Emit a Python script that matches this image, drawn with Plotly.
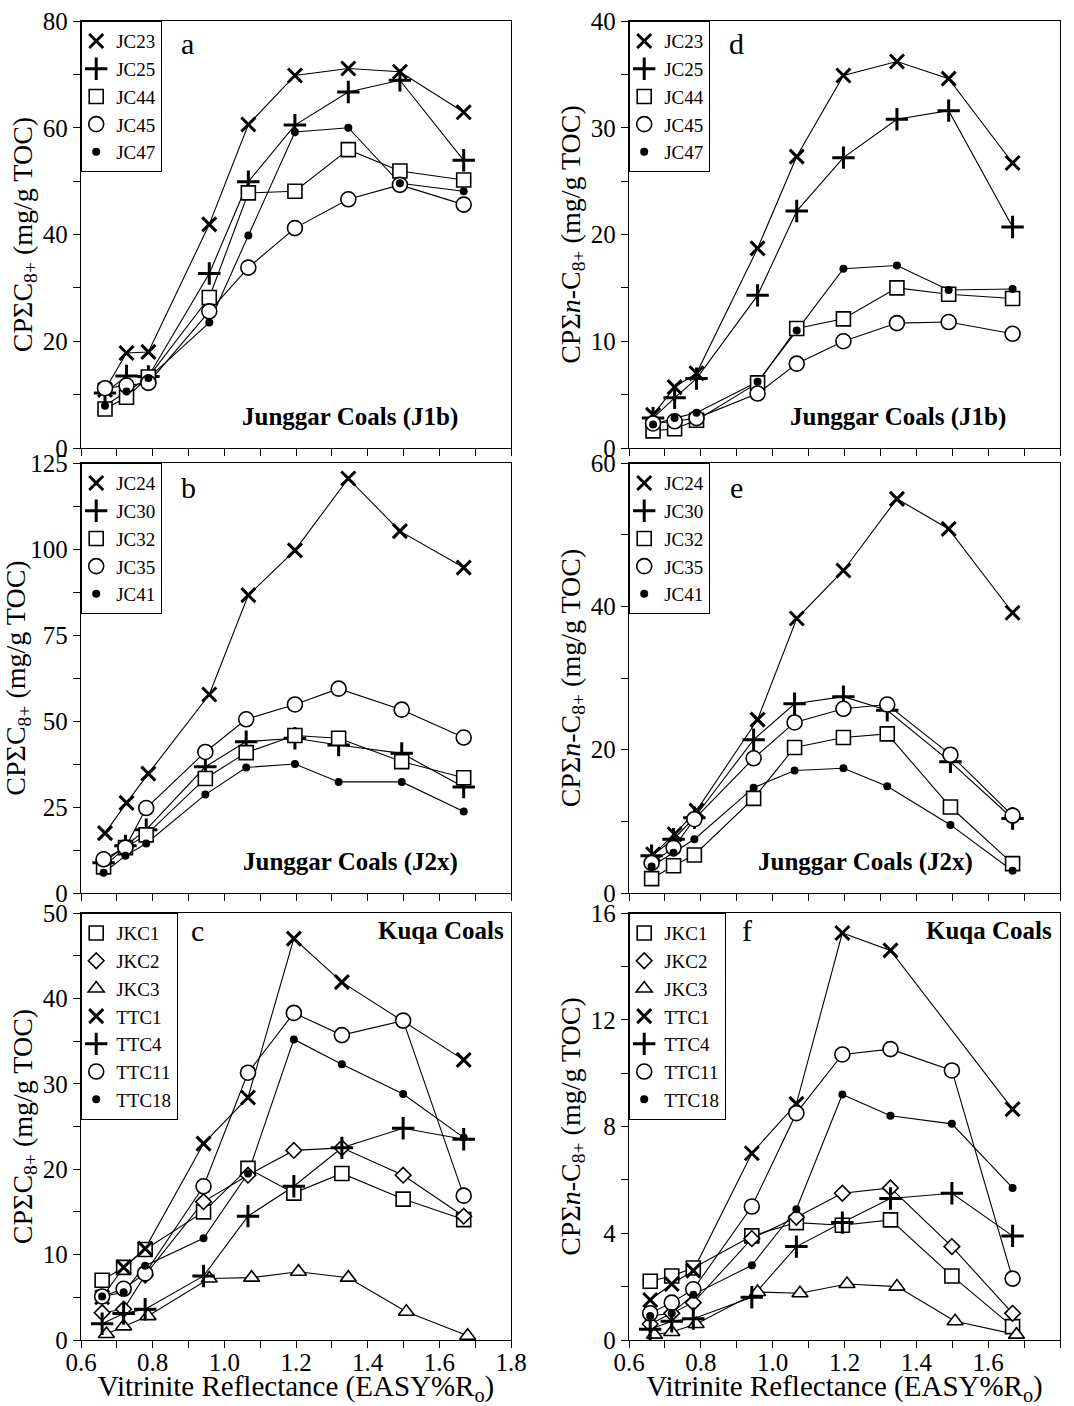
import plotly.graph_objects as go

# ---------------- data (x = EASY%Ro, y = yields) ----------------
RO_J1B = [0.667, 0.727, 0.788, 0.958, 1.067, 1.197, 1.346, 1.490, 1.668]
RO_JC24 = [0.667, 0.727, 0.788, 0.958, 1.067, 1.197, 1.346, 1.490, 1.668]
RO_J2X = [0.663, 0.724, 0.782, 0.947, 1.061, 1.197, 1.319, 1.495, 1.668]
RO_KUQA = [0.659, 0.719, 0.779, 0.942, 1.066, 1.194, 1.328, 1.499, 1.668]
RO_JKC3 = [0.671, 0.719, 0.787, 0.958, 1.076, 1.207, 1.346, 1.508, 1.679]

# panel a: CPΣC8+, Junggar J1b
A_JC23 = [10.9, 17.8, 18.0, 41.9, 60.6, 69.8, 71.1, 70.5, 62.9]
A_JC25 = [10.3, 13.5, 13.4, 32.7, 49.9, 60.5, 66.7, 68.9, 53.9]
A_JC44 = [7.3, 9.5, 13.3, 28.2, 47.8, 48.1, 55.9, 51.9, 50.2]
A_JC45 = [11.2, 11.7, 12.2, 25.6, 33.8, 41.2, 46.6, 49.3, 45.6]
A_JC47 = [7.9, 10.6, 13.1, 23.5, 39.8, 59.2, 60.0, 49.6, 48.1]

# panel d: CPΣn-C8+, Junggar J1b
D_JC23 = [3.1, 5.7, 7.0, 18.7, 27.3, 34.9, 36.2, 34.6, 26.7]
D_JC25 = [2.8, 4.7, 6.5, 14.3, 22.2, 27.2, 30.8, 31.6, 20.7]
D_JC44 = [1.6, 1.8, 2.6, 6.1, 11.2, 12.1, 15.0, 14.4, 14.0]
D_JC45 = [2.3, 2.5, 2.8, 5.1, 7.9, 10.0, 11.7, 11.8, 10.7]
D_JC47 = [2.2, 2.8, 3.3, 6.2, 11.0, 16.8, 17.1, 14.8, 14.9]

# panel b: CPΣC8+, Junggar J2x
B_JC24 = [17.4, 26.2, 34.7, 57.7, 86.6, 99.6, 120.5, 105.2, 94.6]
B_JC30 = [8.8, 13.7, 18.4, 36.7, 44.0, 45.0, 43.0, 40.6, 30.8]
B_JC32 = [7.6, 13.2, 16.9, 33.3, 40.8, 45.8, 45.0, 38.2, 33.5]
B_JC35 = [9.8, 13.2, 24.7, 41.0, 50.5, 54.8, 59.4, 53.3, 45.2]
B_JC41 = [5.9, 10.8, 14.4, 28.6, 36.5, 37.5, 32.3, 32.3, 23.7]

# panel e: CPΣn-C8+, Junggar J2x
E_JC24 = [5.4, 8.2, 11.5, 24.2, 38.3, 45.0, 55.0, 50.8, 39.1]
E_JC30 = [5.2, 7.5, 10.5, 21.4, 26.4, 27.4, 25.5, 18.3, 10.4]
E_JC32 = [2.0, 3.8, 5.3, 13.2, 20.3, 21.7, 22.2, 12.0, 4.1]
E_JC35 = [4.2, 6.3, 10.3, 18.8, 23.8, 25.7, 26.3, 19.3, 10.8]
E_JC41 = [3.7, 5.6, 7.5, 14.7, 17.1, 17.4, 14.9, 9.5, 3.1]

# panel c: CPΣC8+, Kuqa
C_JKC1 = [7.0, 8.5, 10.6, 15.0, 20.1, 17.2, 19.5, 16.5, 14.1]
C_JKC2 = [3.2, 3.6, 7.6, 16.2, 19.3, 22.2, 22.5, 19.3, 14.5]
C_JKC3 = [0.7, 1.6, 2.8, 7.2, 7.3, 8.0, 7.3, 3.3, 0.5]
C_TTC1 = [5.0, 8.5, 10.7, 23.0, 28.4, 47.0, 41.9, None, 32.8]
C_TTC4 = [1.9, 3.1, 3.6, 7.5, 14.5, 18.0, 22.5, 24.8, 23.5]
C_TTC11 = [5.1, 6.0, 7.8, 18.0, 31.3, 38.3, 35.7, 37.4, 16.9]
C_TTC18 = [5.1, 5.6, 8.7, 11.9, 19.5, 35.2, 32.3, 28.8, 23.7]

# panel f: CPΣn-C8+, Kuqa
F_JKC1 = [2.2, 2.4, 2.7, 3.9, 4.4, 4.3, 4.5, 2.4, 0.5]
F_JKC2 = [0.6, 1.0, 1.4, 3.8, 4.6, 5.5, 5.7, 3.5, 1.0]
F_JKC3 = [0.2, 0.3, 0.6, 1.8, 1.75, 2.1, 2.0, 0.7, 0.2]
F_TTC1 = [1.5, 2.1, 2.6, 7.0, 8.85, 15.25, 14.6, None, 8.65]
F_TTC4 = [0.4, 0.7, 0.8, 1.6, 3.5, 4.4, 5.3, 5.5, 3.9]
F_TTC11 = [1.0, 1.4, 1.9, 5.0, 8.5, 10.7, 10.9, 10.1, 2.3]
F_TTC18 = [0.9, 1.0, 1.7, 2.8, 4.9, 9.2, 8.4, 8.1, 5.7]

X_TICKS = [0.6, 0.8, 1.0, 1.2, 1.4, 1.6, 1.8]

# ---------------- styling ----------------
W, H = 1074, 1406
MB = 66                      # bottom margin for the x titles
PH = H - MB                  # plotting-area height
FONT = "Liberation Serif"
COL_X = [(81, 511), (629, 1060)]
ROW_Y = [(21, 448), (463, 893), (913, 1340)]


def xdom(c):
    return [COL_X[c][0] / W, COL_X[c][1] / W]


def ydom(r):
    return [(PH - ROW_Y[r][1]) / PH, (PH - ROW_Y[r][0]) / PH]


LW = 1.6
MARK = {
    "x": dict(symbol="x-thin", size=14, color="black", line=dict(width=3, color="black")),
    "+": dict(symbol="cross-thin", size=16, color="black", line=dict(width=3, color="black")),
    "sq": dict(symbol="square", size=14, color="white", line=dict(width=LW, color="black")),
    "o": dict(symbol="circle", size=15, color="white", line=dict(width=LW, color="black")),
    "dot": dict(symbol="circle", size=8, color="black", line=dict(width=0, color="black")),
    "dia": dict(symbol="diamond", size=12, color="white", line=dict(width=LW, color="black")),
    "tri": dict(symbol="triangle-up", size=14, color="white", line=dict(width=LW, color="black")),
}

LEFT_T = "CPΣC<sub>8+</sub> (mg/g TOC)"
RIGHT_T = "CPΣ<i>n</i>-C<sub>8+</sub> (mg/g TOC)"
X_T = "Vitrinite Reflectance (EASY%R<sub>o</sub>)"

PANELS = [
    dict(letter="a", row=0, col=0, ymax=80, dtick=20, region="Junggar Coals (J1b)", rpos=(0.626, 0.073, "center"),
         series=[("JC23", RO_J1B, A_JC23, "x"), ("JC25", RO_J1B, A_JC25, "+"), ("JC44", RO_J1B, A_JC44, "sq"),
                 ("JC45", RO_J1B, A_JC45, "o"), ("JC47", RO_J1B, A_JC47, "dot")]),
    dict(letter="d", row=0, col=1, ymax=40, dtick=10, region="Junggar Coals (J1b)", rpos=(0.624, 0.073, "center"),
         series=[("JC23", RO_J1B, D_JC23, "x"), ("JC25", RO_J1B, D_JC25, "+"), ("JC44", RO_J1B, D_JC44, "sq"),
                 ("JC45", RO_J1B, D_JC45, "o"), ("JC47", RO_J1B, D_JC47, "dot")]),
    dict(letter="b", row=1, col=0, ymax=125, dtick=25, region="Junggar Coals (J2x)", rpos=(0.626, 0.072, "center"),
         series=[("JC24", RO_JC24, B_JC24, "x"), ("JC30", RO_J2X, B_JC30, "+"), ("JC32", RO_J2X, B_JC32, "sq"),
                 ("JC35", RO_J2X, B_JC35, "o"), ("JC41", RO_J2X, B_JC41, "dot")]),
    dict(letter="e", row=1, col=1, ymax=60, dtick=20, region="Junggar Coals (J2x)", rpos=(0.548, 0.072, "center"),
         series=[("JC24", RO_JC24, E_JC24, "x"), ("JC30", RO_J2X, E_JC30, "+"), ("JC32", RO_J2X, E_JC32, "sq"),
                 ("JC35", RO_J2X, E_JC35, "o"), ("JC41", RO_J2X, E_JC41, "dot")]),
    dict(letter="c", row=2, col=0, ymax=50, dtick=10, region="Kuqa Coals", rpos=(0.988, 0.96, "right"),
         series=[("JKC1", RO_KUQA, C_JKC1, "sq"), ("JKC2", RO_KUQA, C_JKC2, "dia"), ("JKC3", RO_JKC3, C_JKC3, "tri"),
                 ("TTC1", RO_KUQA, C_TTC1, "x"), ("TTC4", RO_KUQA, C_TTC4, "+"), ("TTC11", RO_KUQA, C_TTC11, "o"),
                 ("TTC18", RO_KUQA, C_TTC18, "dot")]),
    dict(letter="f", row=2, col=1, ymax=16, dtick=4, region="Kuqa Coals", rpos=(0.986, 0.96, "right"),
         series=[("JKC1", RO_KUQA, F_JKC1, "sq"), ("JKC2", RO_KUQA, F_JKC2, "dia"), ("JKC3", RO_JKC3, F_JKC3, "tri"),
                 ("TTC1", RO_KUQA, F_TTC1, "x"), ("TTC4", RO_KUQA, F_TTC4, "+"), ("TTC11", RO_KUQA, F_TTC11, "o"),
                 ("TTC18", RO_KUQA, F_TTC18, "dot")]),
]

fig = go.Figure()
layout = dict(
    width=W, height=H, margin=dict(l=0, r=0, t=0, b=MB, autoexpand=False),
    paper_bgcolor="white", plot_bgcolor="white",
    font=dict(family=FONT, color="black", size=24),
    showlegend=True, annotations=[],
)

for i, p in enumerate(PANELS, start=1):
    sfx = "" if i == 1 else str(i)
    xa, ya = "x" + sfx, "y" + sfx
    lg = "legend" if i == 1 else f"legend{i}"
    # connecting lines first
    for name, xs, ys, mk in p["series"]:
        fig.add_trace(go.Scatter(x=xs, y=ys, mode="lines", connectgaps=True,
                                 line=dict(color="black", width=1.1), showlegend=False,
                                 hoverinfo="skip", xaxis=xa, yaxis=ya))
    for name, xs, ys, mk in p["series"]:
        fig.add_trace(go.Scatter(x=xs, y=ys, mode="markers", name=name, marker=MARK[mk],
                                 cliponaxis=False, xaxis=xa, yaxis=ya, legend=lg))
    bottom = p["row"] == 2
    layout["xaxis" + sfx] = dict(
        domain=xdom(p["col"]), anchor=ya, range=[0.6, 1.8], tickvals=X_TICKS, ticktext=[f"{v:.1f}" for v in X_TICKS],
        showticklabels=bottom, ticks="outside", ticklen=7, tickwidth=1.2, tickcolor="black",
        minor=dict(dtick=0.1, tick0=0.6, ticks="outside", ticklen=7, tickwidth=1.2, tickcolor="black"),
        showline=True, linecolor="black", linewidth=1.3, mirror=True, showgrid=False, zeroline=False,
        tickfont=dict(size=25), automargin=False, ticklabelstandoff=-7,
        title=dict(text=X_T if bottom else "", font=dict(size=29), standoff=4),
    )
    layout["yaxis" + sfx] = dict(
        domain=ydom(p["row"]), anchor=xa, range=[0, p["ymax"]], dtick=p["dtick"], tick0=0,
        ticks="outside", ticklen=7, tickwidth=1.2, tickcolor="black",
        minor=dict(dtick=p["dtick"] / 2, tick0=0, ticks="outside", ticklen=7, tickwidth=1.2, tickcolor="black"),
        showline=True, linecolor="black", linewidth=1.3, mirror=True, showgrid=False, zeroline=False,
        tickfont=dict(size=25), automargin=False,
        title=dict(text=LEFT_T if p["col"] == 0 else RIGHT_T, font=dict(size=28), standoff=2),
    )
    layout[lg] = dict(
        x=COL_X[p["col"]][0] / W, y=(PH - ROW_Y[p["row"]][0]) / PH, xanchor="left", yanchor="top",
        xref="paper", yref="paper", bgcolor="white", bordercolor="black", borderwidth=1.2,
        font=dict(size=19, family=FONT), tracegroupgap=0, itemwidth=30, indentation=-6,
    )
    lx = {"a": 0.247, "d": 0.25, "b": 0.249, "e": 0.25, "c": 0.272, "f": 0.274}[p["letter"]]
    ly = {0: 0.948, 1: 0.942, 2: 0.96}[p["row"]]
    layout["annotations"].append(dict(text=p["letter"], x=lx, y=ly, xref=f"{xa} domain", yref=f"{ya} domain",
                                      showarrow=False, font=dict(size=30), xanchor="center", yanchor="middle"))
    rx, ry, ranch = p["rpos"]
    layout["annotations"].append(dict(text=f"<b>{p['region']}</b>", x=rx, y=ry, xref=f"{xa} domain",
                                      yref=f"{ya} domain", showarrow=False, font=dict(size=25),
                                      xanchor=ranch, yanchor="middle"))

fig.update_layout(**layout)
fig.write_html("out.html")
